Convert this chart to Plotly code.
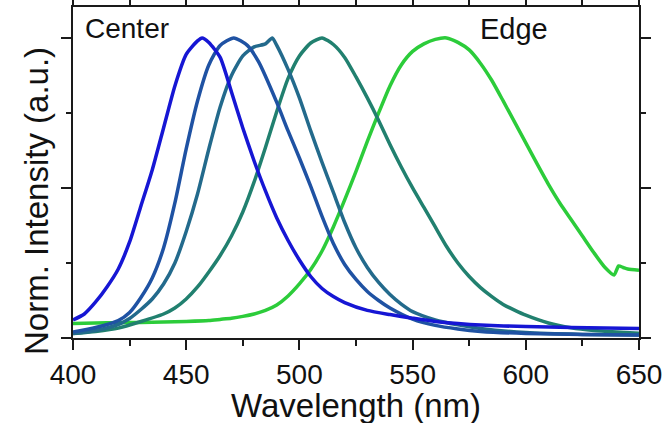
import plotly.graph_objects as go

# Wavelength grids (nm) and normalized intensities
wl_center = [400, 405, 410, 415, 420, 425, 430, 435, 440, 445, 450, 455, 457, 460, 465, 470, 475, 480,
             485, 490, 495, 500, 505, 510, 515, 520, 530, 540, 550, 560, 570, 580, 600, 620, 650]
int_center = [0.06, 0.08, 0.12, 0.17, 0.23, 0.32, 0.44, 0.56, 0.70, 0.84, 0.945, 0.99, 1.0, 0.985, 0.935,
              0.82, 0.70, 0.59, 0.49, 0.40, 0.325, 0.26, 0.205, 0.165, 0.138, 0.118, 0.092, 0.078, 0.066,
              0.055, 0.048, 0.043, 0.038, 0.035, 0.032]

wl_s2 = [400, 410, 420, 425, 430, 435, 440, 445, 450, 455, 460, 465, 471, 477, 482, 490, 495, 500, 505,
         510, 515, 520, 525, 530, 535, 540, 550, 560, 570, 580, 600, 625, 650]
int_s2 = [0.02, 0.035, 0.058, 0.085, 0.135, 0.20, 0.30, 0.45, 0.63, 0.79, 0.91, 0.975, 1.0, 0.975, 0.92,
          0.785, 0.69, 0.60, 0.505, 0.405, 0.315, 0.245, 0.195, 0.155, 0.125, 0.10, 0.063, 0.042, 0.03,
          0.022, 0.015, 0.012, 0.01]

wl_s3 = [400, 410, 420, 425, 430, 435, 440, 445, 450, 455, 460, 465, 470, 475, 480, 485, 488, 490, 495,
         500, 505, 510, 515, 520, 525, 530, 535, 540, 545, 550, 560, 570, 580, 600, 625, 650]
int_s3 = [0.015, 0.025, 0.045, 0.065, 0.095, 0.13, 0.18, 0.25, 0.355, 0.48, 0.63, 0.77, 0.875, 0.94, 0.97,
          0.98, 1.0, 0.975, 0.895, 0.80, 0.69, 0.585, 0.485, 0.385, 0.30, 0.235, 0.185, 0.145, 0.113, 0.088,
          0.06, 0.044, 0.032, 0.018, 0.012, 0.01]

wl_s4 = [400, 410, 420, 430, 440, 445, 450, 455, 460, 465, 470, 475, 480, 485, 490, 495, 500, 505, 510,
         515, 520, 525, 530, 535, 540, 545, 550, 555, 560, 565, 570, 575, 580, 585, 590, 595, 600, 610,
         620, 630, 640, 650]
int_s4 = [0.015, 0.022, 0.033, 0.055, 0.08, 0.10, 0.13, 0.17, 0.22, 0.275, 0.34, 0.42, 0.52, 0.635, 0.755,
          0.865, 0.94, 0.983, 1.0, 0.978, 0.935, 0.87, 0.80, 0.725, 0.645, 0.57, 0.50, 0.435, 0.37, 0.305,
          0.25, 0.205, 0.168, 0.138, 0.112, 0.093, 0.076, 0.05, 0.034, 0.025, 0.02, 0.016]

wl_edge = [400, 410, 420, 430, 440, 450, 460, 465, 470, 475, 480, 485, 490, 495, 500, 505, 510, 515, 520,
           525, 530, 535, 540, 545, 550, 555, 560, 565, 570, 575, 580, 585, 590, 595, 600, 605, 610, 615,
           620, 625, 630, 635, 639, 641, 643, 645, 650]
int_edge = [0.048, 0.05, 0.051, 0.052, 0.053, 0.055, 0.058, 0.062, 0.066, 0.072, 0.08, 0.092, 0.11, 0.14,
            0.18, 0.228, 0.29, 0.37, 0.46, 0.555, 0.655, 0.75, 0.84, 0.91, 0.955, 0.98, 0.995, 1.0, 0.985,
            0.96, 0.915, 0.858, 0.79, 0.72, 0.65, 0.58, 0.512, 0.45, 0.395, 0.34, 0.285, 0.235, 0.21, 0.24,
            0.235, 0.23, 0.226]

series = [
    (wl_edge, int_edge, "#2ccc3a"),
    (wl_s4, int_s4, "#21806f"),
    (wl_s3, int_s3, "#236a8c"),
    (wl_s2, int_s2, "#1f52a3"),
    (wl_center, int_center, "#1616d4"),
]

x_ticks = [400, 450, 500, 550, 600, 650]
x_tick_text = ["400", "450", "500", "550", "600", "650"]
y_major = [0, 0.5, 1.0]
y_minor = [0.25, 0.75]

fig = go.Figure()
for xs, ys, col in series:
    fig.add_trace(go.Scatter(x=xs, y=ys, mode="lines",
                             line=dict(color=col, width=3.5, shape="spline", smoothing=0.6),
                             showlegend=False, hoverinfo="skip"))

font_family = "Liberation Sans, Arial, sans-serif"
axcol = "#1a1a1a"

fig.update_layout(
    template="none",
    width=663, height=423,
    margin=dict(l=73, r=24, t=7, b=85, autoexpand=False),
    paper_bgcolor="white", plot_bgcolor="white",
    font=dict(family=font_family, color="#111"),
    xaxis=dict(range=[400, 650], tickvals=x_ticks, ticktext=x_tick_text, automargin=False,
               ticks="outside", ticklen=10, tickwidth=1.6, tickcolor=axcol,
               minor=dict(dtick=25, tick0=400, ticks="outside", ticklen=6, tickwidth=1.6, tickcolor=axcol),
               showline=True, mirror="ticks", linecolor=axcol, linewidth=2, showgrid=False, zeroline=False,
               tickfont=dict(size=28, family=font_family, color="#111")),
    yaxis=dict(range=[0, 1.103], tickvals=y_major, showticklabels=False, automargin=False,
               ticks="outside", ticklen=10, tickwidth=1.6, tickcolor=axcol,
               minor=dict(tickvals=y_minor, ticks="outside", ticklen=5, tickwidth=1.6, tickcolor=axcol),
               showline=True, mirror="ticks", linecolor=axcol, linewidth=2, showgrid=False, zeroline=False),
)

fig.add_annotation(text="Wavelength (nm)", xref="paper", yref="paper", x=0.5, y=0,
                   xanchor="center", yanchor="top", yshift=-47, showarrow=False,
                   font=dict(size=33, family=font_family, color="#111"))
fig.add_annotation(text="Norm. Intensity (a.u.)", xref="paper", yref="paper", x=0, y=0.5,
                   xanchor="right", yanchor="middle", xshift=-16, yshift=-28, textangle=-90,
                   showarrow=False, font=dict(size=33, family=font_family, color="#111"))
fig.add_annotation(text="Center", xref="paper", yref="paper", x=0, y=1,
                   xanchor="left", yanchor="top", xshift=10, yshift=-4, showarrow=False,
                   font=dict(size=28, family=font_family, color="#111"))
fig.add_annotation(text="Edge", x=595, xref="x", yref="paper", y=1,
                   xanchor="center", yanchor="top", yshift=-4, showarrow=False,
                   font=dict(size=29, family=font_family, color="#111"))

fig.write_html("out.html")
